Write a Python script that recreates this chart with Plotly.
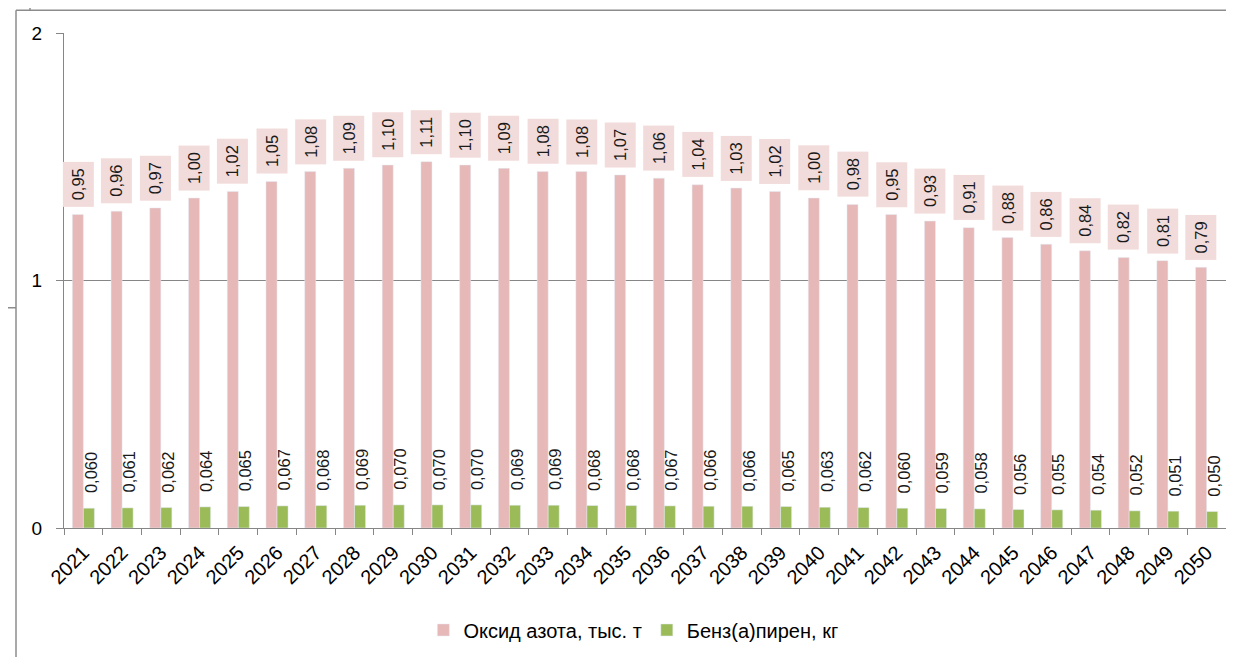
import plotly.graph_objects as go

years = [str(y) for y in range(2021, 2051)]
nox = [0.95, 0.96, 0.97, 1.00, 1.02, 1.05, 1.08, 1.09, 1.10, 1.11,
       1.10, 1.09, 1.08, 1.08, 1.07, 1.06, 1.04, 1.03, 1.02, 1.00,
       0.98, 0.95, 0.93, 0.91, 0.88, 0.86, 0.84, 0.82, 0.81, 0.79]
bap = [0.060, 0.061, 0.062, 0.064, 0.065, 0.067, 0.068, 0.069, 0.070, 0.070,
       0.070, 0.069, 0.069, 0.068, 0.068, 0.067, 0.066, 0.066, 0.065, 0.063,
       0.062, 0.060, 0.059, 0.058, 0.056, 0.055, 0.054, 0.052, 0.051, 0.050]
y_ticks = [0, 0.75, 1.5]
y_ticktext = ["0", "1", "2"]

pink = "#e6b8b7"
green = "#9bbb59"
grey = "#868686"
font = "Liberation Sans, Arial, sans-serif"

def fmt(v, nd):
    return f"{v:.{nd}f}".replace(".", ",")

fig = go.Figure()
fig.add_trace(go.Bar(x=years, y=nox, name="Оксид азота, тыс. т", marker_color=pink))
fig.add_trace(go.Bar(x=years, y=bap, name="Бенз(а)пирен, кг", marker_color=green))

# data labels (category axis -> annotation x is the category index)
for i, v in enumerate(nox):
    fig.add_annotation(x=i, y=v, text=fmt(v, 2), textangle=-90, showarrow=False,
                       yanchor="bottom", yshift=7, xshift=-5.5,
                       bgcolor="#f2dcdb", borderpad=6,
                       font=dict(family=font, size=16.5, color="#1a1a1a"))
for i, v in enumerate(bap):
    fig.add_annotation(x=i, y=v, text=fmt(v, 3), textangle=-90, showarrow=False,
                       yanchor="bottom", yshift=13, xshift=7,
                       font=dict(family=font, size=16.5, color="#1a1a1a"))

# bits of the surrounding frame
frame = dict(type="line", xref="paper", yref="paper", line=dict(color="#8c8c8c", width=1.5))
x0 = -48 / 1162
fig.add_shape(**frame, x0=x0, x1=1.1, y0=(532 - 10) / 499, y1=(532 - 10) / 499)
fig.add_shape(**frame, x0=x0, x1=x0, y0=(532 - 10) / 499, y1=-0.3)
fig.add_shape(**frame, x0=-34 / 1162, x1=-34 / 1162, y0=(532 - 10) / 499, y1=1.2)
fig.add_shape(**frame, x0=-0.07, x1=x0, y0=(532 - 310) / 499, y1=(532 - 310) / 499)

# page body has an 8px margin, so the figure is 8px smaller each way
fig.update_layout(
    width=1226, height=649,
    margin=dict(l=56, r=8, t=25, b=125),
    paper_bgcolor="white", plot_bgcolor="white",
    barmode="group", bargap=0.43, bargroupgap=0,
    font=dict(family=font, size=17, color="#000"),
    showlegend=True,
    legend=dict(orientation="h", x=0.49, xanchor="center", y=-0.206, yanchor="middle",
                font=dict(size=20), itemwidth=30, traceorder="normal"),
)
fig.update_xaxes(type="category", range=[-0.5, len(years) - 0.5], tickangle=-45,
                 showline=True, linecolor=grey,
                 ticks="outside", ticklen=6, tickcolor=grey, tickson="boundaries",
                 ticklabelstandoff=4, tickfont=dict(size=20))
fig.update_yaxes(range=[0, 1.5], tickvals=y_ticks, ticktext=y_ticktext,
                 showgrid=True, gridcolor=grey, showline=True, linecolor=grey,
                 ticks="outside", ticklen=7, tickcolor=grey, ticklabelstandoff=10,
                 zeroline=False, tickfont=dict(size=19))

fig.write_html("out.html")
